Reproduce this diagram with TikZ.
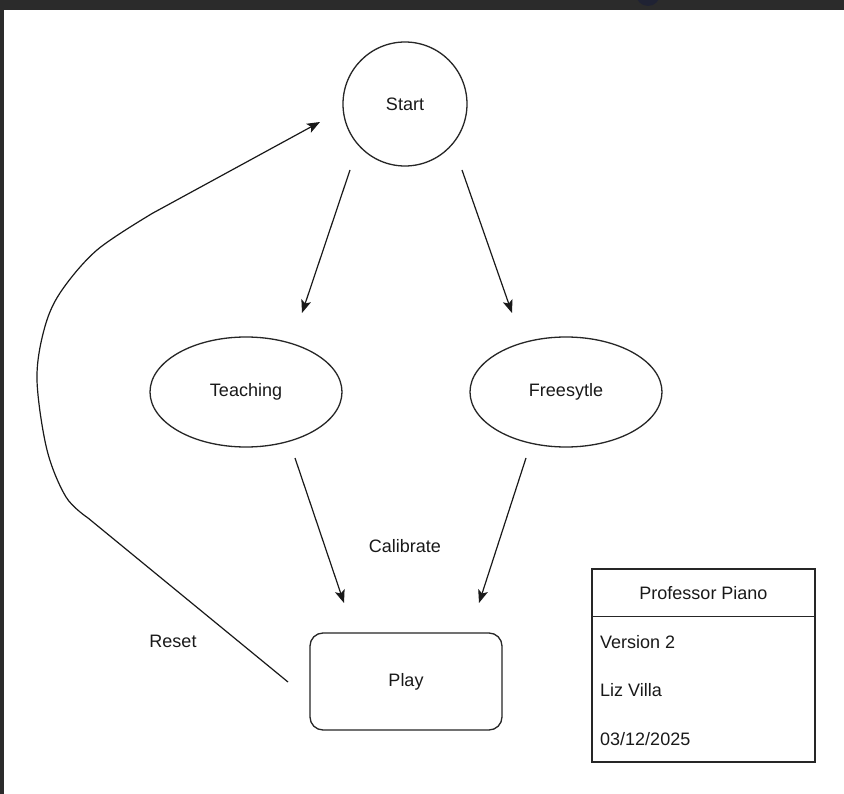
\documentclass[tikz,border=0pt]{standalone}
\usepackage{fontspec}
\setmainfont{Liberation Sans}
\usetikzlibrary{arrows.meta,shapes.geometric}
\definecolor{frame}{HTML}{2B2B2B}
\definecolor{navy}{HTML}{1F2233}
\tikzset{
  every node/.style={font=\fontsize{18}{22}\selectfont, text=black!90},
  lbl/.style={inner sep=0pt},
  shp/.style={draw=black!85, line width=1.3pt},
  conn/.style={draw=black!90, line width=1.2pt, -{Stealth[length=13pt,width=10pt,inset=3pt]}},
}
\begin{document}
\begin{tikzpicture}[x=1pt,y=-1pt]
\useasboundingbox (0,0) rectangle (844,794);
\clip (0,0) rectangle (844,794);
\fill[white] (0,0) rectangle (844,794);
\fill[frame] (0,0) rectangle (844,10);
\fill[frame] (0,0) rectangle (4,794);
\fill[navy] (648,-6) circle (12);

% nodes
\node[shp, circle, minimum size=124pt, inner sep=0pt] (start) at (405,104) {Start};
\node[shp, ellipse, minimum width=192pt, minimum height=110pt, inner sep=0pt] (teach) at (246,392) {Teaching};
\node[shp, ellipse, minimum width=192pt, minimum height=110pt, inner sep=0pt] (free) at (566,392) {Freesytle};
\node[shp, rectangle, rounded corners=13pt, minimum width=192pt, minimum height=97pt, inner sep=0pt] (play) at (406,681.5) {Play};

\node[lbl] (calib) at (405,546) {Calibrate};
\node[lbl] (reset) at (173,641) {Reset};

% info table
\node[shp, rectangle, minimum width=223pt, minimum height=193pt, inner sep=0pt] (tbl) at (703.5,665.5) {};
\draw[shp] ([yshift=-48pt]tbl.north west) -- ([yshift=-48pt]tbl.north east);
\node[lbl] (title) at (703.5,593) {Professor Piano};
\node[lbl, anchor=west] (ver) at (600,642) {Version 2};
\node[lbl, anchor=west] (auth) at (600,690) {Liz Villa};
\node[lbl, anchor=west] (date) at (600,739) {03/12/2025};

% connector endpoints
\coordinate (s1) at (350,170);
\coordinate (t1) at (302,313);
\coordinate (s2) at (462,170);
\coordinate (f1) at (512,313);
\coordinate (t2) at (295,458);
\coordinate (p1) at (344,603);
\coordinate (f2) at (526,458);
\coordinate (p2) at (479,603);
\coordinate (r0) at (288,682);
\coordinate (r3) at (320,122);

\draw[conn] (s1) -- (t1);
\draw[conn] (s2) -- (f1);
\draw[conn] (t2) -- (p1);
\draw[conn] (f2) -- (p2);
\draw[conn] (r0) -- (88,518)
  plot[smooth, tension=0.55] coordinates {(88,518) (66,497) (47,450) (37,380) (44,330) (60,293) (97,250) (153,213)}
  -- (r3);
\end{tikzpicture}
\end{document}
